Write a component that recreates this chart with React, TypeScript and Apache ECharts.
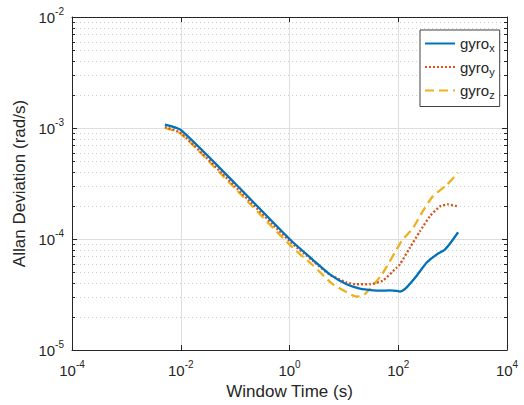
import React, { useEffect, useRef } from "react";
import * as echarts from "echarts";

// Window time (s) and Allan deviation (rad/s)
const tauX = [0.0051, 0.01, 0.1, 1, 2.69, 5.53, 11.2, 19.7, 34.6, 50, 70, 93, 107, 132, 217, 331, 506, 719, 955, 1262];
const adevX = [1.074e-3, 9.6e-4, 3.16e-4, 1.0e-4, 6.5e-5, 4.8e-5, 3.91e-5, 3.58e-5, 3.45e-5, 3.42e-5, 3.44e-5, 3.41e-5, 3.36e-5, 3.53e-5, 4.65e-5, 6.1e-5, 7.24e-5, 8.02e-5, 9.5e-5, 1.15e-4];

const tauY = [0.0051, 0.01, 0.1, 1, 2.69, 5.53, 11.2, 17.1, 30, 52, 93, 107, 163, 250, 381, 582, 826, 1262];
const adevY = [1.02e-3, 9.0e-4, 2.97e-4, 9.6e-5, 6.35e-5, 4.77e-5, 4.07e-5, 3.91e-5, 3.91e-5, 4.22e-5, 5.51e-5, 5.9e-5, 8.32e-5, 1.17e-4, 1.6e-4, 1.96e-4, 2.05e-4, 1.96e-4];

const tauZ = [0.0051, 0.01, 0.1, 1, 2.69, 6.28, 14.6, 17.3, 24.3, 50, 116, 185, 283, 432, 772, 1262];
const adevZ = [1.0e-3, 8.9e-4, 2.85e-4, 8.9e-5, 5.8e-5, 3.91e-5, 3.1e-5, 3.02e-5, 3.19e-5, 4.8e-5, 9.6e-5, 1.25e-4, 1.78e-4, 2.42e-4, 3.06e-4, 3.96e-4];

const seriesNames = ["gyrox", "gyroy", "gyroz"];
const seriesSubs = ["x", "y", "z"];
const seriesColors = ["#0072BD", "#D95319", "#EDB120"];

const xMin = 1e-4;
const xMax = 1e4;
const yMin = 1e-5;
const yMax = 1e-2;

// minor y grid positions (2..9 x 10^k)
const minorY: number[] = [];
for (let k = -5; k <= -3; k++) {
  for (let m = 2; m <= 9; m++) minorY.push(m * Math.pow(10, k));
}

const FONT = "'Liberation Sans', Arial, Helvetica, sans-serif";
const TXT = "#262626";

const pow10Label = (v: number) => {
  const e = Math.round(Math.log10(v));
  return `{b|10}{sup|${e}}`;
};

const labelRich = {
  b: { fontSize: 15, fontFamily: FONT, color: TXT, lineHeight: 22 },
  sup: { fontSize: 10, fontFamily: FONT, color: TXT, verticalAlign: "top" as const },
};

export default function App() {
  const ref = useRef<HTMLDivElement>(null);
  useEffect(() => {
    if (!ref.current) return;
    const chart = echarts.init(ref.current, undefined, { renderer: "svg" });
    const zip = (t: number[], a: number[]) => t.map((x, i) => [x, a[i]]);
    const axisBase = {
      type: "log",
      logBase: 10,
      axisLine: { show: true, onZero: false, lineStyle: { color: TXT, width: 1 } },
      axisTick: { show: true, inside: true, length: 5, lineStyle: { color: TXT } },
    };
    const option: any = {
      animation: false,
      backgroundColor: "#ffffff",
      grid: { left: 72, right: 17, top: 17, bottom: 52, containLabel: false },
      xAxis: [
        {
          ...axisBase,
          min: xMin,
          max: xMax,
          interval: 2,
          position: "bottom",
          name: "Window Time (s)",
          nameLocation: "middle",
          nameGap: 33,
          nameTextStyle: { fontSize: 17, fontFamily: FONT, color: TXT },
          axisLabel: { formatter: pow10Label, rich: labelRich, margin: 9 },
          splitLine: { show: true, lineStyle: { color: "#dedede", width: 1 } },
        },
        {
          ...axisBase,
          min: xMin,
          max: xMax,
          interval: 2,
          position: "top",
          axisLabel: { show: false },
          splitLine: { show: false },
        },
      ],
      yAxis: [
        {
          ...axisBase,
          min: yMin,
          max: yMax,
          interval: 1,
          position: "left",
          name: "Allan Deviation (rad/s)",
          nameLocation: "middle",
          nameGap: 37,
          nameTextStyle: { fontSize: 17, fontFamily: FONT, color: TXT },
          axisLabel: { formatter: pow10Label, rich: labelRich, margin: 8 },
          splitLine: { show: true, lineStyle: { color: "#dedede", width: 1 } },
        },
        {
          ...axisBase,
          min: yMin,
          max: yMax,
          interval: 1,
          position: "right",
          axisLabel: { show: false },
          splitLine: { show: false },
        },
      ],
      legend: {
        orient: "vertical",
        left: 420,
        top: 30,
        data: seriesNames,
        itemWidth: 30,
        itemHeight: 12,
        itemGap: 6,
        padding: [6, 5, 6, 4],
        backgroundColor: "#ffffff",
        borderColor: "#404040",
        borderWidth: 1,
        borderRadius: 0,
        itemStyle: { opacity: 0 },
        formatter: (name: string) => {
          const i = seriesNames.indexOf(name);
          return `{b|gyro}{sub|${seriesSubs[i]}}`;
        },
        textStyle: {
          color: TXT,
          fontFamily: FONT,
          rich: {
            b: { fontSize: 15, fontFamily: FONT, color: TXT, lineHeight: 20 },
            sub: { fontSize: 11, fontFamily: FONT, color: TXT, verticalAlign: "bottom" },
          },
        },
      },
      series: [
        {
          type: "custom",
          name: "minorGrid",
          xAxisIndex: 0,
          yAxisIndex: 0,
          z: 1,
          silent: true,
          clip: false,
          data: minorY.map((v) => [1, v]),
          renderItem: (_p: any, api: any) => {
            const v = api.value(1);
            const l = api.coord([xMin, v]);
            const r = api.coord([xMax, v]);
            const y = Math.round(l[1]) + 0.5;
            return {
              type: "group",
              children: [
                {
                  type: "line",
                  shape: { x1: l[0], y1: y, x2: r[0], y2: y },
                  style: { stroke: "#cccccc", lineWidth: 1, lineDash: [1, 3] },
                },
                {
                  type: "line",
                  shape: { x1: l[0], y1: y, x2: l[0] + 3, y2: y },
                  style: { stroke: TXT, lineWidth: 1 },
                },
                {
                  type: "line",
                  shape: { x1: r[0] - 3, y1: y, x2: r[0], y2: y },
                  style: { stroke: TXT, lineWidth: 1 },
                },
              ],
            };
          },
        },
        {
          type: "line",
          name: seriesNames[0],
          data: zip(tauX, adevX),
          showSymbol: false,
          symbol: "none",
          legendIcon: "none",
          smooth: 0.2,
          z: 5,
          lineStyle: { color: seriesColors[0], width: 2.3, type: "solid" },
          itemStyle: { color: seriesColors[0] },
        },
        {
          type: "line",
          name: seriesNames[1],
          data: zip(tauY, adevY),
          showSymbol: false,
          symbol: "none",
          legendIcon: "none",
          smooth: 0.2,
          z: 4,
          lineStyle: { color: seriesColors[1], width: 2.3, type: [2, 2] },
          itemStyle: { color: seriesColors[1] },
        },
        {
          type: "line",
          name: seriesNames[2],
          data: zip(tauZ, adevZ),
          showSymbol: false,
          symbol: "none",
          legendIcon: "none",
          smooth: 0.2,
          z: 3,
          lineStyle: { color: seriesColors[2], width: 2.3, type: [9, 5] },
          itemStyle: { color: seriesColors[2] },
        },
      ],
    };
    chart.setOption(option);
    return () => chart.dispose();
  }, []);
  return (
    <div
      ref={ref}
      style={{ position: "fixed", left: 0, top: 0, width: 524, height: 405, background: "#fff" }}
    />
  );
}
